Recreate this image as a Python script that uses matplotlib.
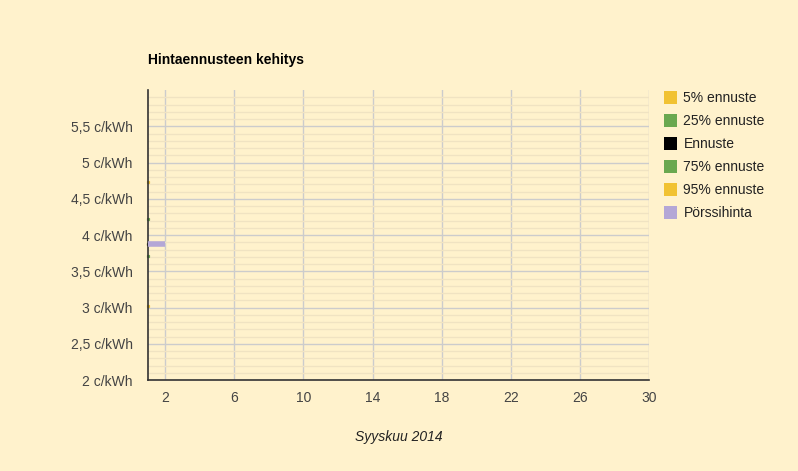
import matplotlib
matplotlib.use("Agg")
import matplotlib.pyplot as plot
from matplotlib.patches import Patch
from matplotlib.ticker import FuncFormatter, FixedLocator

plot.rcParams['font.family'] = ['Liberation Sans', 'DejaVu Sans']

# Price forecast data for September 2014
days_spot = [1, 2]
spot_price = [3.87, 3.87]

forecast_day = [1]
p5 = [3.02]
p25 = [3.71]
forecast = [3.87]
p75 = [4.22]
p95 = [4.73]

series_names = ["5% ennuste", "25% ennuste", "Ennuste", "75% ennuste", "95% ennuste", "Pörssihinta"]
series_colors = ["#f1c232", "#6aa84f", "#000000", "#6aa84f", "#f1c232", "#b4a7d6"]

x_ticks = [2, 6, 10, 14, 18, 22, 26, 30]
y_ticks = [2, 2.5, 3, 3.5, 4, 4.5, 5, 5.5]

bg = "#fff2cc"

figure = plot.figure(figsize=(7.98, 4.71), dpi=100, facecolor=bg)
axis = figure.add_axes([148 / 798, 1 - 380 / 471, 501 / 798, 290 / 471])
axis.set_facecolor(bg)

axis.set_xlim(1, 30)
axis.set_ylim(2, 6)
axis.set_xticks(x_ticks)
axis.set_yticks(y_ticks)
axis.yaxis.set_minor_locator(FixedLocator([2 + 0.1 * i for i in range(1, 40) if i % 5 != 0]))
axis.yaxis.set_major_formatter(FuncFormatter(lambda v, p: ("%g" % v).replace(".", ",") + " c/kWh"))

axis.grid(True, which="major", axis="both", color="#cccccc", linewidth=1)
axis.grid(True, which="minor", axis="y", color="#f0e3c2", linewidth=1)
axis.set_axisbelow(True)

for name in ["top", "right"]:
    axis.spines[name].set_visible(False)
for name in ["left", "bottom"]:
    axis.spines[name].set_color("#333333")
    axis.spines[name].set_linewidth(1.2)
    axis.spines[name].set_zorder(2)

axis.tick_params(which="both", length=0, labelsize=10, labelcolor="#444444")
axis.tick_params(axis="x", pad=8)
axis.tick_params(axis="y", pad=11)

forecasts = [p5, p25, forecast, p75, p95]
for values, color in zip(forecasts, series_colors[:5]):
    axis.plot(forecast_day, values, marker="s", markersize=1.3, color=color,
              linestyle="none", clip_on=False, zorder=1)

axis.plot(days_spot, spot_price, color=series_colors[5], linewidth=4, solid_capstyle="butt", zorder=3)

axis.set_xlabel("Syyskuu 2014", fontsize=10, style="italic", color="#222222", labelpad=18)
figure.text(148 / 798, 1 - 60 / 471, "Hintaennusteen kehitys", fontsize=10, fontweight="bold",
            color="#000000", va="center", ha="left")

handles = [Patch(facecolor=c, edgecolor="none") for c in series_colors]
figure.legend(handles, series_names, loc="upper left", bbox_to_anchor=(664 / 798, 1 - 91 / 471),
              frameon=False, fontsize=10, handlelength=0.95, handleheight=1.1,
              handletextpad=0.45, labelspacing=0.62, borderaxespad=0, borderpad=0,
              labelcolor="#222222")

plot.savefig("out.png", dpi=100, facecolor=bg)
